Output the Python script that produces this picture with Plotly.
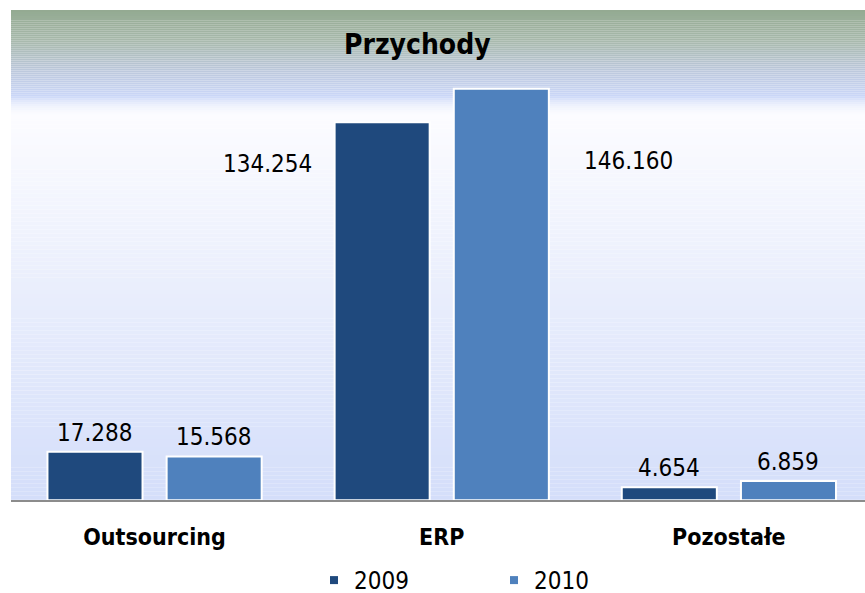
import plotly.graph_objects as go

categories = ["Outsourcing", "ERP", "Pozostałe"]
years = ["2009", "2010"]
values_2009 = [17.288, 134.254, 4.654]
values_2010 = [15.568, 146.160, 6.859]
labels_2009 = ["17.288", "134.254", "4.654"]
labels_2010 = ["15.568", "146.160", "6.859"]

C2009 = "#1f497d"
C2010 = "#4f81bd"
FONT = "DejaVu Sans Condensed, DejaVu Sans, sans-serif"

W, H = 865, 603
REF_H = 593
PL, PR, PT, PB = 11, 865, 10, 497   # plot area in reference pixels
PH = PB - PT


def px(page_x):
    return page_x / W


def py(ref_y):
    return (REF_H - ref_y) / REF_H


def lerp(c1, c2, t):
    return tuple(round(a + (b - a) * t) for a, b in zip(c1, c2))


def grad_stops(stops, y):
    for (p0, c0), (p1, c1) in zip(stops, stops[1:]):
        if p0 <= y <= p1:
            return lerp(c0, c1, (y - p0) / (p1 - p0) if p1 > p0 else 0)
    return stops[-1][1]


stops = [
    (10, (147, 170, 145)),
    (40, (168, 185, 172)),
    (70, (188, 200, 220)),
    (96, (203, 215, 248)),
    (100, (222, 230, 251)),
    (106, (240, 243, 253)),
    (114, (252, 252, 255)),
    (300, (232, 237, 252)),
    (497, (212, 222, 250)),
]

shapes = []
yy = PT
while yy < PB:
    step = 2 if yy < 120 else 4
    c = grad_stops(stops, yy + step / 2)
    shapes.append(dict(type="rect", xref="paper", yref="paper", x0=px(PL), x1=px(PR),
                       y0=py(min(yy + step, PB)), y1=py(yy),
                       fillcolor="rgb(%d,%d,%d)" % c, line=dict(width=0),
                       layer="below"))
    yy += step

x = list(range(len(categories)))
bw = 0.331

fig = go.Figure()
fig.add_trace(go.Bar(x=x, y=values_2009, width=bw, offset=-0.373,
                     marker=dict(color=C2009, line=dict(color="white", width=2)),
                     showlegend=False, hoverinfo="skip"))
fig.add_trace(go.Bar(x=x, y=values_2010, width=bw, offset=0.042,
                     marker=dict(color=C2010, line=dict(color="white", width=2)),
                     showlegend=False, hoverinfo="skip"))
for name, col in zip(years, [C2009, C2010]):
    fig.add_trace(go.Scatter(x=[None], y=[None], mode="markers", name=name,
                             marker=dict(symbol="square", size=8, color=col)))

annotations = []
off_2009 = [(0, 3, "bottom"), (-115, -42, "middle"), (0, 3, "bottom")]
off_2010 = [(0, 3, "bottom"), (127, -72, "middle"), (0, 3, "bottom")]
for i in x:
    for vals, labs, offs, dx in [(values_2009, labels_2009, off_2009, -0.207),
                                  (values_2010, labels_2010, off_2010, 0.207)]:
        xs, ys, ya = offs[i]
        annotations.append(dict(x=i + dx, y=vals[i], text=labs[i], showarrow=False,
                                xshift=xs, yshift=ys, yanchor=ya,
                                font=dict(family=FONT, size=24, color="#000000")))

annotations.append(dict(xref="paper", yref="paper", x=px(417), y=py(44),
                        xanchor="center", yanchor="middle",
                        text="<b>Przychody</b>", showarrow=False,
                        font=dict(family=FONT, size=28, color="#000000")))

fig.update_layout(
    width=W, height=H,
    margin=dict(l=0, r=0, t=0, b=0),
    paper_bgcolor="white", plot_bgcolor="rgba(0,0,0,0)",
    barmode="overlay",
    shapes=shapes,
    annotations=annotations,
    xaxis=dict(domain=[px(PL), px(PR)], range=[-0.5, 2.474], tickmode="array", tickvals=x,
               ticktext=["<b>%s</b>" % c for c in categories],
               tickfont=dict(family=FONT, size=23, color="#000000"),
               showline=True, linecolor="#8c8c8c", linewidth=2,
               showgrid=False, zeroline=False, ticks="", ticklabelstandoff=15,
               fixedrange=True),
    yaxis=dict(domain=[py(PB), py(PT)], range=[0, PH / 2.798], visible=False,
               fixedrange=True),
    legend=dict(orientation="h", xanchor="left", yanchor="middle",
                x=px(314), y=py(577),
                font=dict(family=FONT, size=24, color="#000000"),
                entrywidth=135, itemwidth=30, bgcolor="rgba(0,0,0,0)"),
    showlegend=True,
)

fig.write_html(
    "out.html",
    config={"displayModeBar": False},
    post_script="document.body.style.margin='0';document.body.style.overflow='hidden';",
)
